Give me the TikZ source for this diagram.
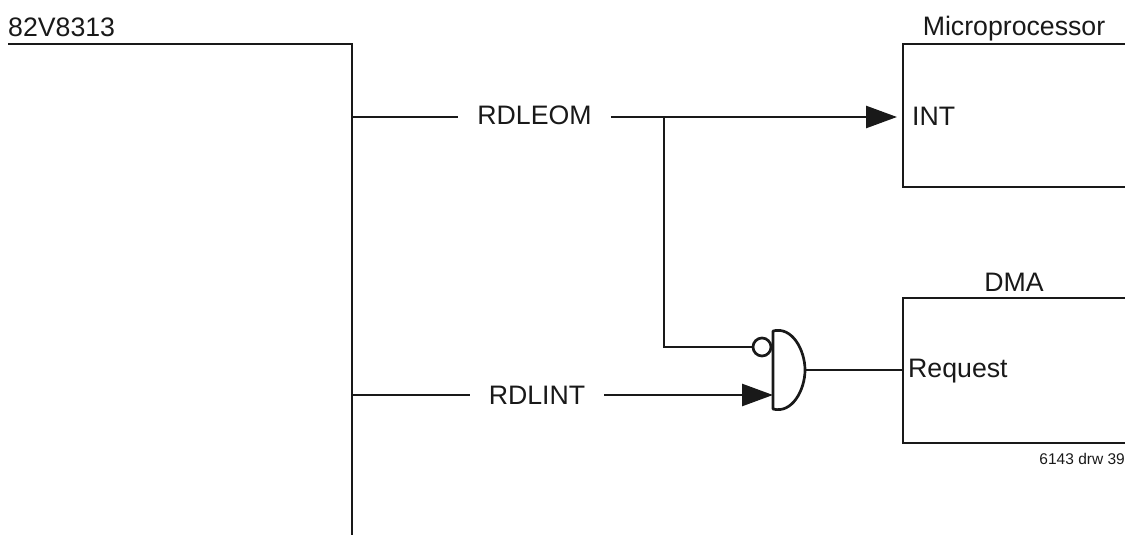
\documentclass[tikz,border=0pt]{standalone}
\usepackage{fontspec}
\setmainfont{Liberation Sans}
\usetikzlibrary{arrows.meta,calc}
\tikzset{
  wire/.style={line width=2.7pt,draw=black!90},
  sig/.style={wire,-{Triangle[length=31pt,width=22pt]}},
  lbl/.style={font=\fontsize{26.7}{30}\selectfont,text=black!90,inner sep=0pt},
  siglbl/.style={lbl,inner xsep=19pt},
  inv/.style={circle,draw=black!90,line width=2.7pt,fill=white,minimum size=18pt,inner sep=0pt},
}
\begin{document}
\begin{tikzpicture}[x=1pt,y=-1pt]
\useasboundingbox (0,0) rectangle (1125,535);

\node[lbl,anchor=west] (chipname) at (8,27) {82V8313};
\coordinate (chiptl) at (8,44);
\coordinate (chiptr) at (352,44);
\coordinate (chipbot) at (352,535);
\draw[wire] (chiptl) -- (chiptr) -- (chipbot);

\coordinate (busleom) at (352,117);
\coordinate (busint) at (352,395);
\node[siglbl] (rdleom) at (534.5,115.5) {RDLEOM};
\node[siglbl] (rdlint) at (537,395) {RDLINT};

% microprocessor box, open to the right
\coordinate (mptl) at (903,44);
\coordinate (mpbl) at (903,187);
\draw[wire] (1125,44) -- (mptl) -- (mpbl) -- (1125,187);
\node[lbl] (mpname) at (1014,29) {Microprocessor};
\node[lbl,anchor=west] (intpin) at (912,116) {INT};

% dma box
\coordinate (dmatl) at (903,298);
\coordinate (dmabl) at (903,443);
\draw[wire] (1125,298) -- (dmatl) -- (dmabl) -- (1125,443);
\node[lbl] (dmaname) at (1014,282) {DMA};
\node[lbl,anchor=west] (reqpin) at (908,371) {Request};
\node[font=\fontsize{15.5}{18}\selectfont,text=black!90,anchor=east,inner sep=0pt] (drw) at (1125,459) {6143 drw 39};

% gate
\coordinate (gatea) at (773,331);
\coordinate (gateb) at (773,409);
\coordinate (gateout) at (805,370);
\draw[wire,line join=round] (gatea) .. controls (792,326) and (805,350) .. (gateout)
  .. controls (805,390) and (792,414) .. (gateb) -- cycle;
\node[inv] (bubble) at (762,347) {};

\coordinate (junction) at (664,117);
\coordinate (corner) at (664,347);
\coordinate (intarrow) at (897,117);
\coordinate (gatein) at (773,395);
\coordinate (reqin) at (903,370);

\draw[wire] (busleom) -- (busleom -| rdleom.west);
\draw[sig] (intarrow -| rdleom.east) -- (intarrow);
\draw[wire] (junction) -- (corner) -- (bubble);
\draw[wire] (busint) -- (rdlint);
\draw[sig] (rdlint) -- (gatein);
\draw[wire] (gateout) -- (reqin);
\end{tikzpicture}
\end{document}
